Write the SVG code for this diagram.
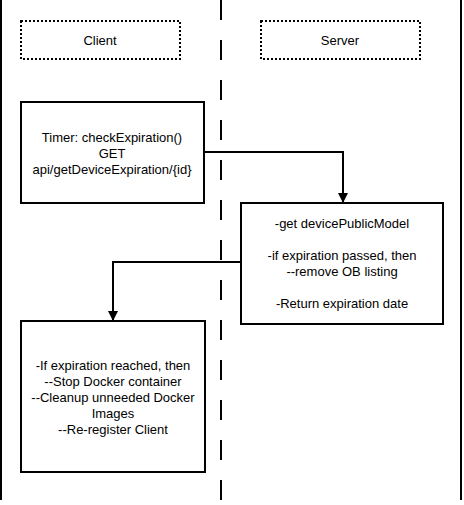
<svg xmlns="http://www.w3.org/2000/svg" width="464" height="505" viewBox="0 0 464 505">
<style>
.box{fill:#fff;stroke:#000;stroke-width:2}
.dot{fill:#fff;stroke:#000;stroke-width:2;stroke-dasharray:2 2}
.t{font-family:"Liberation Sans",Arial,sans-serif;font-size:13px;fill:#000;text-anchor:middle}
.ln{fill:none;stroke:#000;stroke-width:2}
</style>
<defs>
<marker id="ah" markerWidth="10" markerHeight="10" refX="9" refY="5" orient="auto" markerUnits="userSpaceOnUse">
<path d="M0,0 L10,5 L0,10 Z" fill="#000"/>
</marker>
</defs>
<rect width="464" height="505" fill="#fff"/>
<g id="lanes">
<line x1="1" y1="0" x2="1" y2="500" class="ln"/>
<line x1="461" y1="0" x2="461" y2="500" class="ln"/>
<line x1="221" y1="0" x2="221" y2="500" class="ln" stroke-dasharray="20 20"/>
</g>
<g id="client-header">
<rect x="21" y="21" width="159" height="38" class="dot"/>
<text x="100" y="45" class="t">Client</text>
</g>
<g id="server-header">
<rect x="261" y="21" width="159" height="38" class="dot"/>
<text x="340" y="45" class="t">Server</text>
</g>
<g id="connectors">
<polyline points="204,152 343,152 343,202" class="ln" marker-end="url(#ah)"/>
<polyline points="241,262 113,262 113,320" class="ln" marker-end="url(#ah)"/>
</g>
<g id="timer">
<rect x="21" y="102" width="183" height="101" class="box"/>
<text x="112" y="142" class="t">Timer: checkExpiration()</text>
<text x="112" y="158" class="t">GET</text>
<text x="112" y="174" class="t">api/getDeviceExpiration/{id}</text>
</g>
<g id="server-proc">
<rect x="241" y="203" width="202" height="121" class="box"/>
<text x="342" y="228" class="t">-get devicePublicModel</text>
<text x="342" y="260" class="t">-if expiration passed, then</text>
<text x="342" y="276" class="t">--remove OB listing</text>
<text x="342" y="308" class="t">-Return expiration date</text>
</g>
<g id="client-proc">
<rect x="21" y="321" width="184" height="151" class="box"/>
<text x="113" y="370" class="t">-If expiration reached, then</text>
<text x="113" y="386" class="t">--Stop Docker container</text>
<text x="113" y="402" class="t">--Cleanup unneeded Docker</text>
<text x="113" y="418" class="t">Images</text>
<text x="113" y="434" class="t">--Re-register Client</text>
</g>
</svg>
